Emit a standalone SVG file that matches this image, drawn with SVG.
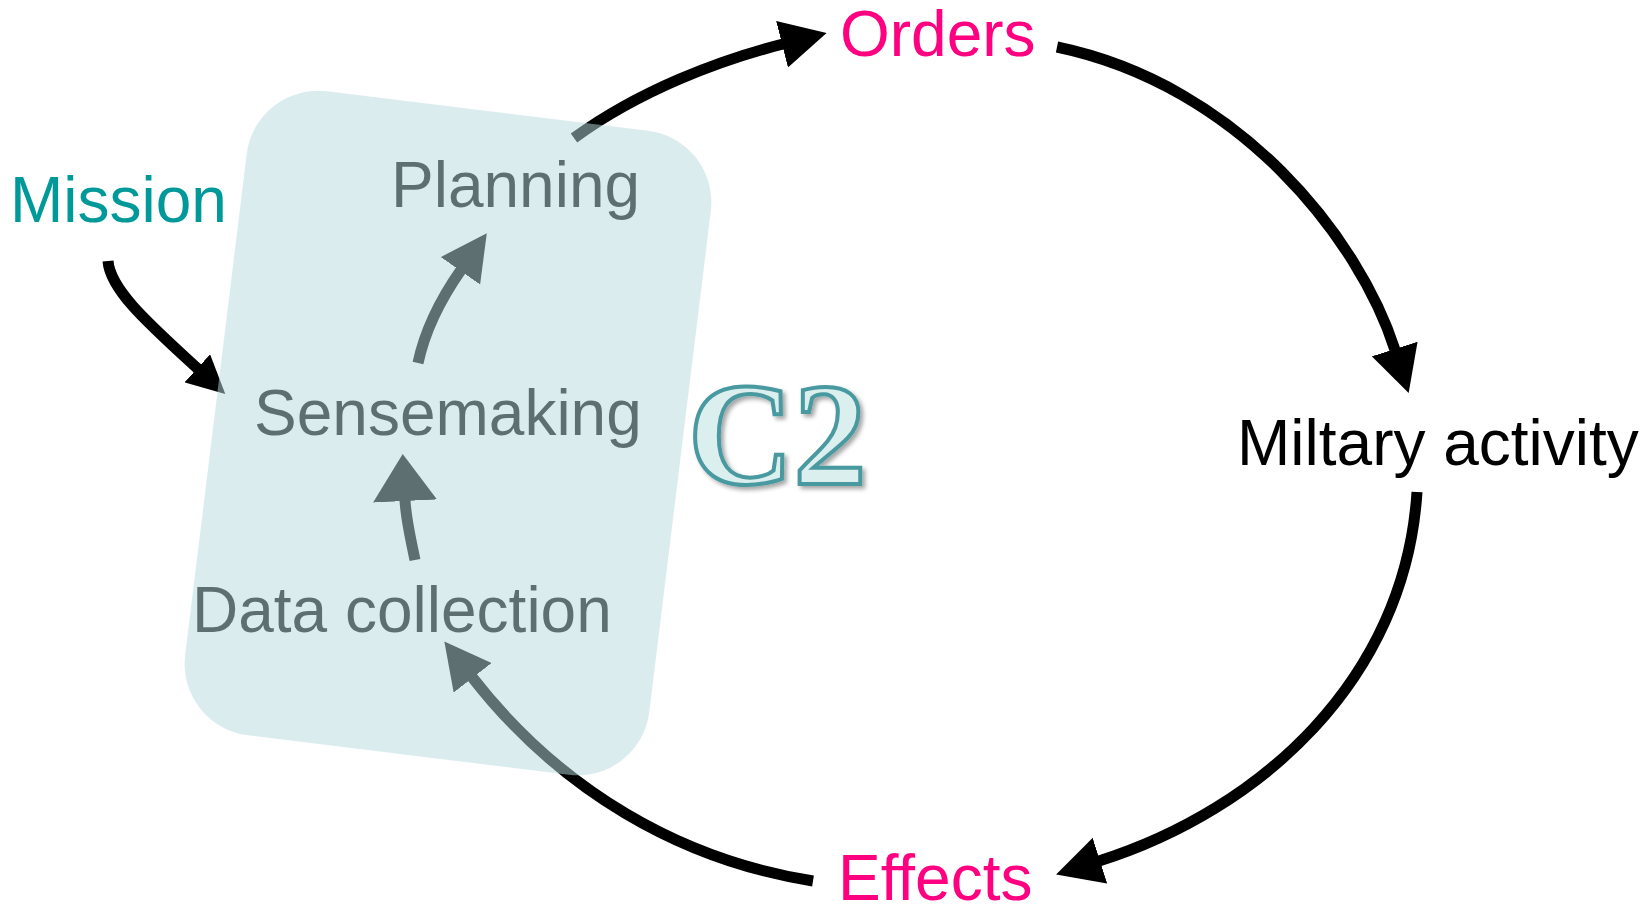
<svg xmlns="http://www.w3.org/2000/svg" width="1646" height="908" viewBox="0 0 1646 908">
<style>
.lbl{font-family:"Liberation Sans",Arial,sans-serif;font-size:64px}
.conn{fill:none;stroke:#000;stroke-width:11;stroke-linecap:butt}
</style>
<defs>
<marker id="ah" markerUnits="userSpaceOnUse" viewBox="0 -24 46 48" refX="1" refY="0" markerWidth="46" markerHeight="48" orient="auto">
<path d="M0,-24 L46,0 L0,24 z" fill="#000"/>
</marker>
<marker id="ahs" markerUnits="userSpaceOnUse" viewBox="0 -19 38 38" refX="1" refY="0" markerWidth="38" markerHeight="38" orient="auto">
<path d="M0,-19 L38,0 L0,19 z" fill="#000"/>
</marker>
<marker id="ahw" markerUnits="userSpaceOnUse" viewBox="0 -32 47 64" refX="1" refY="0" markerWidth="47" markerHeight="64" orient="auto">
<path d="M0,-32 L47,0 L0,32 z" fill="#000"/>
</marker>
<filter id="sh" x="-20%" y="-20%" width="140%" height="140%">
<feDropShadow dx="3" dy="3" stdDeviation="2" flood-color="#000" flood-opacity="0.35"/>
</filter>
</defs>
<g id="connectors">
<path class="conn" d="M574,138 C640,90 720,60 783,44" marker-end="url(#ah)"/>
<path class="conn" d="M1057,47 C1240,85 1360,240 1395,350" marker-end="url(#ah)"/>
<path class="conn" d="M1417,492 C1405,680 1260,810 1099,861" marker-end="url(#ah)"/>
<path class="conn" d="M813,881 C680,860 560,790 472,677" marker-end="url(#ah)"/>
<path class="conn" d="M108,261 C110,290 150,325 198,369" marker-end="url(#ahs)"/>
<path class="conn" d="M418,363 C425,330 440,300 461,270" marker-end="url(#ah)"/>
<path class="conn" d="M415,560 C410,535 406,520 405,500" marker-end="url(#ahw)"/>
</g>
<g id="planning"><text class="lbl" x="391" y="207" fill="#000">Planning</text></g>
<g id="sensemaking"><text class="lbl" x="254" y="435" fill="#000">Sensemaking</text></g>
<g id="data-collection"><text class="lbl" x="192" y="632" fill="#000">Data collection</text></g>
<g id="c2-box">
<rect x="214.2" y="108.6" width="467.6" height="648.9" rx="72" ry="72" fill="#b9dae0" fill-opacity="0.51" transform="rotate(7 448 433)"/>
</g>
<g id="c2-label">
<text x="688" y="484" font-family="'Liberation Serif','Times New Roman',serif" font-weight="bold" font-size="146" fill="#dcefef" stroke="#4a9aa0" stroke-width="4" filter="url(#sh)">C2</text>
</g>
<g id="mission"><text class="lbl" x="10" y="222" fill="#009999">Mission</text></g>
<g id="orders"><text class="lbl" x="840" y="56" fill="#ff0080">Orders</text></g>
<g id="military-activity"><text class="lbl" x="1237" y="465" fill="#000">Miltary activity</text></g>
<g id="effects"><text class="lbl" x="838" y="900" fill="#ff0080">Effects</text></g>
</svg>
